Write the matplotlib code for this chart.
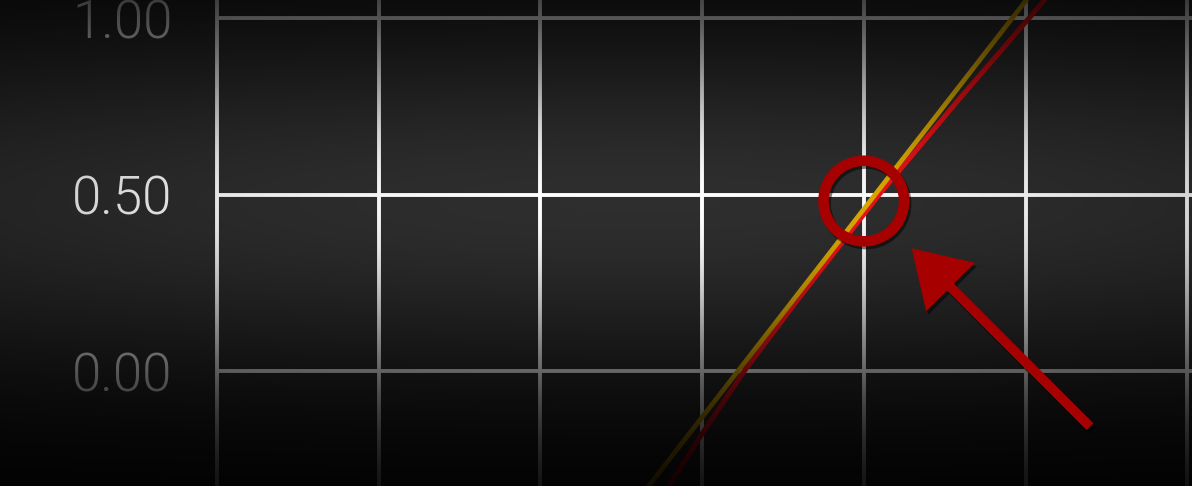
import numpy as np
import matplotlib
matplotlib.use('Agg')
import matplotlib.pyplot as plt
import matplotlib.patheffects as pe
from matplotlib.patches import FancyArrowPatch, ArrowStyle

# grid / ticks
grid_x = [0, 1, 2, 3, 4, 5, 6]
y_ticks = [0.0, 0.5, 1.0]
y_tick_labels = ['0.00', '0.50', '1.00']

# gold series (near straight)
gold_x = [2.55, 3.0, 3.5, 4.0, 4.5, 5.0, 5.2]
gold_y = [-0.396, -0.131, 0.164, 0.459, 0.754, 1.049, 1.167]
# red series (hugs gold in the middle, drifts right at both ends)
red_x = [2.649, 2.793, 3.003, 3.261, 3.588, 4.094, 4.588, 5.021, 5.30]
red_y = [-0.436, -0.326, -0.176, 0.0, 0.2, 0.5, 0.77, 1.0, 1.15]

# highlight + arrow
circle_pt = (4.0, 0.482)
arrow_tip = (4.296, 0.348)
arrow_tail = (5.399, -0.158)

W, H = 1192, 486
BG = '#2e2e2e'
fig = plt.figure(figsize=(W / 100, H / 100), dpi=100, facecolor=BG)

left_px = 217
ax = fig.add_axes([left_px / W, 0, 1 - left_px / W, 1])
ax.set_facecolor('none')
ax.set_xlim(0, (W - left_px) / 161.7)
ax.set_ylim(-0.326, 1.052)
ax.set_xticks(grid_x)
ax.set_xticklabels([])
ax.set_yticks(y_ticks)
ax.set_yticklabels(y_tick_labels, fontfamily='Roboto', fontweight=300,
                   fontsize=38, color='white')
ax.tick_params(length=0, pad=32)
ax.tick_params(axis='x', pad=0)
for s in ax.spines.values():
    s.set_visible(False)
ax.set_axisbelow(True)
ax.grid(True, color='white', lw=2.8)
for gl in ax.get_xgridlines():
    gl.set_clip_on(False)

ax.plot(red_x, red_y, color='#ee1218', lw=3.6, solid_capstyle='butt', zorder=3)
ax.plot(gold_x, gold_y, color='#dcaa00', lw=3.4, solid_capstyle='butt', zorder=4)

# dark vignette over everything drawn so far
yy, xx = np.mgrid[0:H, 0:W] + 0.5
alpha = 1 - np.exp(-((yy - 203) / 176) ** 2 - ((xx - 640) / 1300) ** 2)
rgba = np.zeros((H, W, 4))
rgba[..., 3] = alpha
ov = fig.add_axes([0, 0, 1, 1], zorder=5)
ov.imshow(rgba, extent=(0, 1, 0, 1), aspect='auto', interpolation='bilinear')
ov.set_xlim(0, 1)
ov.set_ylim(0, 1)
ov.axis('off')

# annotation layer
top = fig.add_axes(ax.get_position(), zorder=10)
top.set_xlim(ax.get_xlim())
top.set_ylim(ax.get_ylim())
top.axis('off')

mark_red = '#a60000'
top.plot([circle_pt[0]], [circle_pt[1]], marker='o', ms=58, mfc='none',
         mec=mark_red, mew=7.6,
         path_effects=[pe.SimpleLineShadow(offset=(1.5, -2), shadow_color='black', alpha=0.5),
                       pe.Normal()])

arrow = FancyArrowPatch(arrow_tail, arrow_tip,
                        arrowstyle=ArrowStyle('simple', head_length=39.5,
                                              head_width=49.5, tail_width=7.0),
                        mutation_scale=1, shrinkA=0, shrinkB=0,
                        color=mark_red, lw=0,
                        path_effects=[pe.withSimplePatchShadow(offset=(1.5, -2.5),
                                                               shadow_rgbFace='black',
                                                               alpha=0.5)])
top.add_patch(arrow)

fig.savefig('out.png', dpi=100, facecolor=BG)
